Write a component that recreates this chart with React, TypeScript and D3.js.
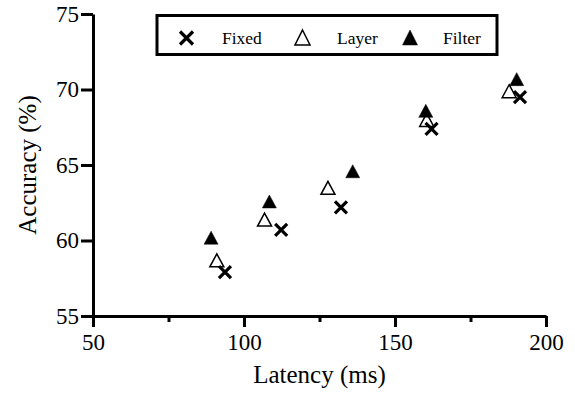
import { useRef, useEffect } from 'react';
import * as d3 from 'd3';

const fixedLatency = [93.7, 112.3, 132.1, 162.1, 191.4];
const fixedAcc = [57.9, 60.7, 62.2, 67.4, 69.5];
const layerLatency = [91.0, 106.8, 127.8, 160.5, 187.8];
const layerAcc = [58.6, 61.3, 63.4, 67.9, 69.8];
const filterLatency = [89.1, 108.4, 136.0, 160.2, 190.3];
const filterAcc = [60.1, 62.5, 64.5, 68.5, 70.6];

const xTicks = [50, 100, 150, 200];
const xMinor = [75, 125, 175];
const yTicks = [55, 60, 65, 70, 75];
const legendNames = ['Fixed', 'Layer', 'Filter'];

const W = 575;
const H = 398;
const FONT = '"Liberation Serif", "Times New Roman", serif';

const App = () => {
    const svgRef = useRef<SVGSVGElement | null>(null);

    useEffect(() => {
        if (!svgRef.current) return;
        const svg = d3.select(svgRef.current);
        svg.selectAll('*').remove();

        const x = d3.scaleLinear().domain([50, 200]).range([93, 546]);
        const y = d3.scaleLinear().domain([55, 75]).range([316, 14]);

        // markers
        const cross = (g: any, cx: number, cy: number, s = 6) => {
            g.append('path')
                .attr('d', `M${cx - s},${cy - s}L${cx + s},${cy + s}M${cx - s},${cy + s}L${cx + s},${cy - s}`)
                .attr('stroke', '#000').attr('stroke-width', 3.2).attr('fill', 'none');
        };
        const tri = (g: any, cx: number, cy: number, filled: boolean, s = 7, h = 13) => {
            g.append('path')
                .attr('d', `M${cx},${cy - h * 0.6}L${cx + s},${cy + h * 0.4}L${cx - s},${cy + h * 0.4}Z`)
                .attr('fill', filled ? '#000' : '#fff')
                .attr('stroke', '#000').attr('stroke-width', filled ? 0.5 : 1.5)
                .attr('stroke-linejoin', 'miter');
        };

        const pts = svg.append('g');
        layerLatency.forEach((v, i) => tri(pts, x(v), y(layerAcc[i]), false));
        filterLatency.forEach((v, i) => tri(pts, x(v), y(filterAcc[i]), true));
        fixedLatency.forEach((v, i) => cross(pts, x(v), y(fixedAcc[i])));

        // axes
        const gx = svg.append('g').attr('transform', `translate(0,${y(55)})`)
            .call(d3.axisBottom(x).tickValues(xTicks).tickSize(11).tickSizeOuter(0).tickPadding(7));
        svg.append('g').attr('transform', `translate(0,${y(55)})`)
            .call(d3.axisBottom(x).tickValues(xMinor).tickSize(6).tickSizeOuter(0).tickFormat(() => ''))
            .select('.domain').remove();

        const gy = svg.append('g').attr('transform', `translate(${x(50)},0)`)
            .call(d3.axisLeft(y).tickValues(yTicks).tickSize(12).tickSizeOuter(0).tickPadding(2));

        [gx, gy].forEach(g => {
            g.select('.domain').attr('stroke-width', 3).attr('stroke', '#000');
            g.selectAll('.tick text').attr('font-family', FONT).attr('font-size', 23).attr('fill', '#000');
        });
        svg.selectAll('.tick line').attr('stroke-width', 3).attr('stroke', '#000');

        // titles
        svg.append('text')
            .attr('x', x(125)).attr('y', 383)
            .attr('text-anchor', 'middle')
            .attr('font-family', FONT).attr('font-size', 25)
            .text('Latency (ms)');
        svg.append('text')
            .attr('transform', `translate(36,${y(65)}) rotate(-90)`)
            .attr('text-anchor', 'middle')
            .attr('font-family', FONT).attr('font-size', 25)
            .text('Accuracy (%)');

        // legend
        const lg = svg.append('g');
        lg.append('rect').attr('x', 157).attr('y', 15.5).attr('width', 340).attr('height', 39)
            .attr('fill', '#fff').attr('stroke', '#000').attr('stroke-width', 3);
        const lx = [186.5, 302.5, 410];
        const ly = 38;
        cross(lg, lx[0], ly, 6.5);
        tri(lg, lx[1], ly + 1, false, 7.5, 15);
        tri(lg, lx[2], ly + 1, true, 7.5, 15);
        const tx = [222, 337, 443];
        legendNames.forEach((n, i) => {
            lg.append('text')
                .attr('x', tx[i]).attr('y', 44)
                .attr('font-family', FONT).attr('font-size', 17.5)
                .text(n);
        });
    }, []);

    return (
        <svg ref={svgRef} width={W} height={H}
            style={{ position: 'absolute', left: 0, top: 0, background: '#fff' }}></svg>
    );
};

export default App;
